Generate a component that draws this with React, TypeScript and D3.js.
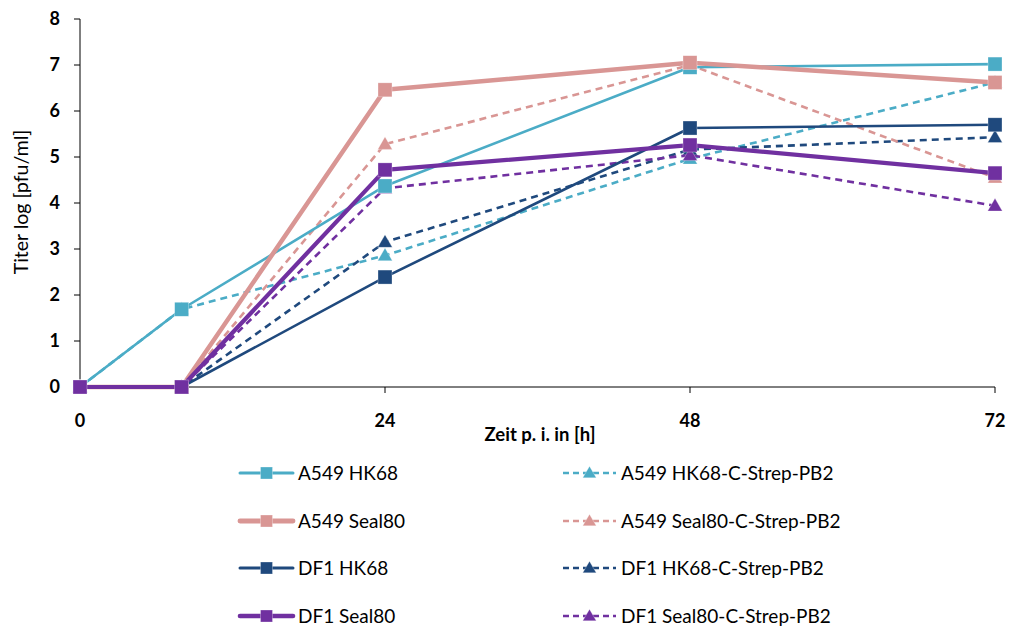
import React from "react";
import * as d3 from "d3";

// Time points (hours post infection)
const hours = [0, 8, 24, 48, 72];
const xTicks = [0, 24, 48, 72];
const yTicks = [0, 1, 2, 3, 4, 5, 6, 7, 8];

// Titer values (log pfu/ml)
const a549HK68 = [0, 1.69, 4.37, 6.95, 7.02];
const a549HK68Strep = [0, 1.69, 2.86, 4.96, 6.62];
const a549Seal80 = [0, 0, 6.46, 7.05, 6.62];
const a549Seal80Strep = [0, 0, 5.28, 7.0, 4.55];
const df1HK68 = [0, 0, 2.39, 5.63, 5.7];
const df1HK68Strep = [0, 0, 3.15, 5.16, 5.43];
const df1Seal80 = [0, 0, 4.72, 5.26, 4.65];
const df1Seal80Strep = [0, 0, 4.32, 5.04, 3.94];

type Series = {
  name: string;
  values: number[];
  color: string;
  width: number;
  dashed: boolean;
};

const LIGHTBLUE = "#4BACC6";
const PINK = "#D99694";
const NAVY = "#1F497D";
const PURPLE = "#7030A0";

const solidSeries: Series[] = [
  { name: "A549 HK68", values: a549HK68, color: LIGHTBLUE, width: 2.6, dashed: false },
  { name: "A549 Seal80", values: a549Seal80, color: PINK, width: 4.5, dashed: false },
  { name: "DF1 HK68", values: df1HK68, color: NAVY, width: 2.6, dashed: false },
  { name: "DF1 Seal80", values: df1Seal80, color: PURPLE, width: 4.2, dashed: false },
];

const dashedSeries: Series[] = [
  { name: "A549 HK68-C-Strep-PB2", values: a549HK68Strep, color: LIGHTBLUE, width: 2.6, dashed: true },
  { name: "A549 Seal80-C-Strep-PB2", values: a549Seal80Strep, color: PINK, width: 2.6, dashed: true },
  { name: "DF1 HK68-C-Strep-PB2", values: df1HK68Strep, color: NAVY, width: 2.6, dashed: true },
  { name: "DF1 Seal80-C-Strep-PB2", values: df1Seal80Strep, color: PURPLE, width: 2.6, dashed: true },
];

// Paint order: dashed lines underneath, solid lines on top
const drawOrder: Series[] = [
  dashedSeries[0],
  dashedSeries[2],
  dashedSeries[1],
  dashedSeries[3],
  solidSeries[0],
  solidSeries[2],
  solidSeries[1],
  solidSeries[3],
];

const W = 1011;
const H = 630;
const FONT = "Lato, 'Open Sans', sans-serif";

const x = d3.scaleLinear().domain([0, 72]).range([80, 995]);
const y = d3.scaleLinear().domain([0, 8]).range([387, 19]);

const lineGen = d3
  .line<number>()
  .x((_, i) => x(hours[i]))
  .y((v) => y(v));

function Marker({ cx, cy, s, kind, color }: { cx: number; cy: number; s: number; kind: "square" | "triangle"; color: string }) {
  if (kind === "square") {
    return <rect x={cx - s / 2} y={cy - s / 2} width={s} height={s} fill={color} stroke="#fff" strokeOpacity={0.5} strokeWidth={0.6} />;
  }
  const tri = d3.symbol(d3.symbolTriangle, s * s * 0.55)() as string;
  return <path d={tri} transform={`translate(${cx},${cy + s * 0.08})`} fill={color} stroke="#fff" strokeOpacity={0.5} strokeWidth={0.6} />;
}

function LegendItem({ s, lx, ly }: { s: Series; lx: number; ly: number }) {
  const x0 = lx;
  const x1 = lx + 53;
  return (
    <g>
      <line
        x1={x0}
        x2={x1}
        y1={ly}
        y2={ly}
        stroke={s.color}
        strokeWidth={s.dashed ? 2.6 : s.width + 0.4}
        strokeLinecap={s.dashed ? "butt" : "round"}
        strokeDasharray={s.dashed ? "6,4" : undefined}
      />
      <Marker cx={(x0 + x1) / 2} cy={ly} s={12} kind={s.dashed ? "triangle" : "square"} color={s.color} />
      <text x={x1 + 5} y={ly} dy="0.36em" fontSize={19} fontFamily={FONT} fill="#000">
        {s.name}
      </text>
    </g>
  );
}

export default function App() {
  const legendRows = [473, 521, 568, 616];
  return (
    <svg width={W} height={H} style={{ display: "block", position: "absolute", left: 0, top: 0 }}>
      <rect width={W} height={H} fill="#fff" />
      {/* y axis */}
      <line x1={x(0)} x2={x(0)} y1={y(8)} y2={y(0)} stroke="#000" strokeWidth={1} />
      {yTicks.map((t) => (
        <g key={`y${t}`}>
          <line x1={x(0) - 6} x2={x(0)} y1={y(t)} y2={y(t)} stroke="#000" />
          <text x={x(0) - 20} y={y(t)} dy="0.36em" textAnchor="end" fontSize={18} fontWeight="bold" fontFamily={FONT}>
            {t}
          </text>
        </g>
      ))}
      {/* x axis */}
      <line x1={x(0)} x2={x(72)} y1={y(0)} y2={y(0)} stroke="#000" strokeWidth={1} />
      {xTicks.map((t) => (
        <g key={`x${t}`}>
          <line x1={x(t)} x2={x(t)} y1={y(0)} y2={y(0) + 6} stroke="#000" />
          <text x={x(t)} y={y(0) + 40} textAnchor="middle" fontSize={18} fontWeight="bold" fontFamily={FONT}>
            {t}
          </text>
        </g>
      ))}
      <text x={540} y={441} textAnchor="middle" fontSize={18.5} fontWeight="bold" fontFamily={FONT}>
        Zeit p. i. in [h]
      </text>
      <text transform={`translate(28,202) rotate(-90)`} textAnchor="middle" fontSize={19.5} fontFamily={FONT}>
        Titer log [pfu/ml]
      </text>

      {/* series */}
      {drawOrder.map((s) => (
        <g key={s.name}>
          <path
            d={lineGen(s.values) as string}
            fill="none"
            stroke={s.color}
            strokeWidth={s.width}
            strokeDasharray={s.dashed ? "7,5" : undefined}
            strokeLinejoin="round"
          />
          {s.values.map((v, i) => (
            <Marker key={i} cx={x(hours[i])} cy={y(v)} s={s.dashed ? 13 : 14} kind={s.dashed ? "triangle" : "square"} color={s.color} />
          ))}
        </g>
      ))}

      {/* legend */}
      {solidSeries.map((s, i) => (
        <LegendItem key={s.name} s={s} lx={240} ly={legendRows[i]} />
      ))}
      {dashedSeries.map((s, i) => (
        <LegendItem key={s.name} s={s} lx={563} ly={legendRows[i]} />
      ))}
    </svg>
  );
}
